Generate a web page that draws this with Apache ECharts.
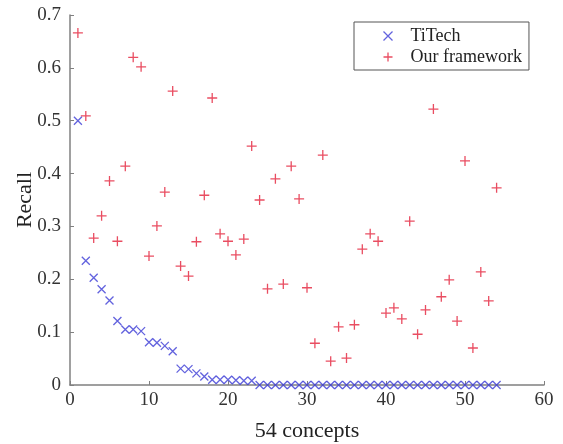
<!DOCTYPE html>
<html><head><meta charset="utf-8">
<script src="https://cdn.jsdelivr.net/npm/echarts@6/dist/echarts.min.js"></script>
<style>html,body{margin:0;padding:0;background:#fff}#c{width:563px;height:444px}</style>
</head><body><div id="c"></div>
<script>
var concepts = [];
for (var i = 1; i <= 54; i++) concepts.push(i);
var titech = [0.500,0.235,0.203,0.181,0.160,0.121,0.105,0.105,0.102,0.081,0.080,0.074,0.064,0.031,0.030,0.022,0.016,0.010,0.010,0.010,0.009,0.008,0.008,
  0,0,0,0,0,0,0,0,0,0,0,0,0,0,0,0,0,0,0,0,0,0,0,0,0,0,0,0,0,0,0];
var ours = [0.666,0.509,0.278,0.320,0.386,0.272,0.414,0.620,0.602,0.244,0.301,0.365,0.556,0.225,0.206,0.271,0.359,0.543,0.286,0.272,
  0.246,0.276,0.452,0.350,0.182,0.390,0.191,0.414,0.352,0.184,0.079,0.435,0.045,0.110,0.051,0.114,0.257,0.286,0.272,0.136,
  0.146,0.125,0.310,0.096,0.142,0.522,0.167,0.199,0.121,0.424,0.070,0.214,0.159,0.373];
var seriesNames = ['TiTech', 'Our framework'];
function pairs(v){ return concepts.map(function(c,i){ return [c, v[i]]; }); }
var font = '"Liberation Serif", "Times New Roman", serif';
var chart = echarts.init(document.getElementById('c'));
var crossPath = 'path://M-1,-1L1,1M-1,1L1,-1';
var plusPath = 'path://M0,-1L0,1M-1,0L1,0';
chart.setOption({
  animation: false,
  grid: {left: 70, top: 15, right: 19, bottom: 59, containLabel: false, outerBoundsMode: 'none'},
  legend: {
    orient: 'vertical', left: 354, top: 22, width: 180,
    padding: [5, 7, 4, 27], itemGap: 3, itemWidth: 9, itemHeight: 9,
    borderColor: '#555', borderWidth: 1, backgroundColor: '#fff',
    textStyle: {fontFamily: font, fontSize: 18, color: '#222', padding: [0, 0, 0, 13]},
    data: [
      {name: seriesNames[0], icon: crossPath, itemStyle: {color: 'none', borderColor: '#3b3bd6', borderWidth: 1.3}},
      {name: seriesNames[1], icon: plusPath, itemStyle: {color: 'none', borderColor: '#e4213a', borderWidth: 1.3}}
    ]
  },
  xAxis: {
    type: 'value', min: 0, max: 60, interval: 10,
    name: '54 concepts', nameLocation: 'middle', nameGap: 35,
    nameTextStyle: {fontFamily: font, fontSize: 22, color: '#222'},
    axisLine: {lineStyle: {color: '#808080', width: 1.5}},
    axisTick: {inside: true, length: 4, lineStyle: {color: '#808080'}},
    axisLabel: {fontFamily: font, fontSize: 19, color: '#333', margin: 6},
    splitLine: {show: false}
  },
  yAxis: {
    type: 'value', min: 0, max: 0.7, interval: 0.1,
    name: 'Recall', nameLocation: 'middle', nameGap: 34, nameMoveOverlap: false,
    nameTextStyle: {fontFamily: font, fontSize: 22, color: '#222'},
    axisLine: {show: true, lineStyle: {color: '#808080', width: 1.5}},
    axisTick: {show: true, inside: true, length: 4, lineStyle: {color: '#808080'}},
    axisLabel: {fontFamily: font, fontSize: 19, color: '#333', margin: 9,
      formatter: function(v){ return String(Math.round(v*10)/10); }},
    splitLine: {show: false}
  },
  series: [
    {name: seriesNames[0], type: 'scatter', data: pairs(titech), symbol: crossPath, symbolSize: 8,
      itemStyle: {color: 'none', borderColor: '#3b3bd6', borderWidth: 1.3}, z: 3},
    {name: seriesNames[1], type: 'scatter', data: pairs(ours), symbol: plusPath, symbolSize: 10,
      itemStyle: {color: 'none', borderColor: '#e4213a', borderWidth: 1.3}, z: 2}
  ]
});
</script></body></html>
